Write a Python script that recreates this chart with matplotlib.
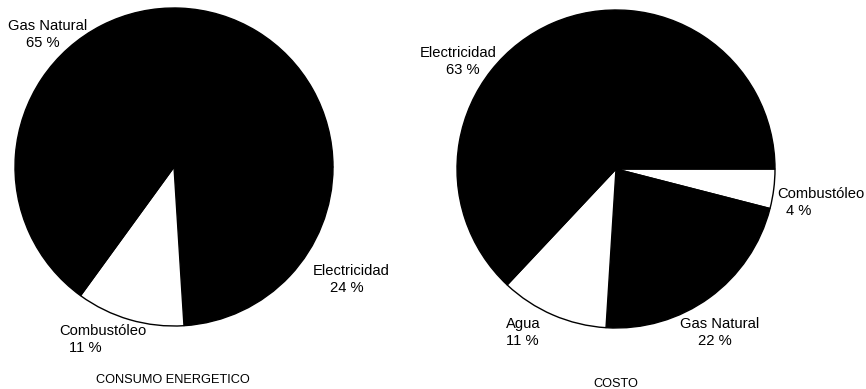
import matplotlib
matplotlib.use("Agg")
import matplotlib.pyplot as plt

plt.rcParams['font.family'] = ['Liberation Sans', 'DejaVu Sans']

# Consumo energetico (percent), clockwise from 3 o'clock
consumo_names = ["Electricidad", "Combustóleo", "Gas Natural"]
consumo_values = [24, 11, 65]
consumo_colors = ["black", "white", "black"]

# Costo (percent), clockwise from 3 o'clock
costo_names = ["Combustóleo", "Gas Natural", "Agua", "Electricidad"]
costo_values = [4, 22, 11, 63]
costo_colors = ["white", "black", "white", "black"]

W, H = 866, 389
fig = plt.figure(figsize=(W / 100, H / 100), dpi=100)


def px_axes(x0, y0, size):
    return fig.add_axes([x0 / W, 1 - (y0 + size) / H, size / W, size / H])


def draw_pie(ax, values, colors):
    ax.pie(values, colors=colors, startangle=0, counterclock=False,
           radius=1.0, wedgeprops=dict(edgecolor="black", linewidth=1.0))
    ax.set_xlim(-1.0, 1.0)
    ax.set_ylim(-1.0, 1.0)
    ax.set_aspect("auto")
    ax.axis("off")


def label(x, y, s, size=10.6):
    fig.text(x / W, 1 - y / H, s, ha="center", va="baseline",
             fontsize=size, color="black")


ax1 = px_axes(15, 8, 318)
draw_pie(ax1, consumo_values, consumo_colors)
ax2 = px_axes(457, 10, 318)
draw_pie(ax2, costo_values, costo_colors)

# label positions (pixels: name center x, baseline y; value center x, baseline y)
consumo_pos = {
    "Electricidad": ((351, 275), (347, 292)),
    "Combustóleo": ((103, 335), (85, 352)),
    "Gas Natural": ((48, 30), (43, 47)),
}
costo_pos = {
    "Combustóleo": ((821, 198), (799, 215)),
    "Gas Natural": ((720, 328), (715, 345)),
    "Agua": ((523, 328), (522, 345)),
    "Electricidad": ((458, 57), (463, 74)),
}

for name, val in zip(consumo_names, consumo_values):
    (nx, ny), (vx, vy) = consumo_pos[name]
    label(nx, ny, name)
    label(vx, vy, f"{val} %")

for name, val in zip(costo_names, costo_values):
    (nx, ny), (vx, vy) = costo_pos[name]
    label(nx, ny, name)
    label(vx, vy, f"{val} %")

label(173, 383, "CONSUMO ENERGETICO", size=9.2)
label(616, 387, "COSTO", size=9.2)

fig.savefig("out.png", dpi=100, facecolor="white")
